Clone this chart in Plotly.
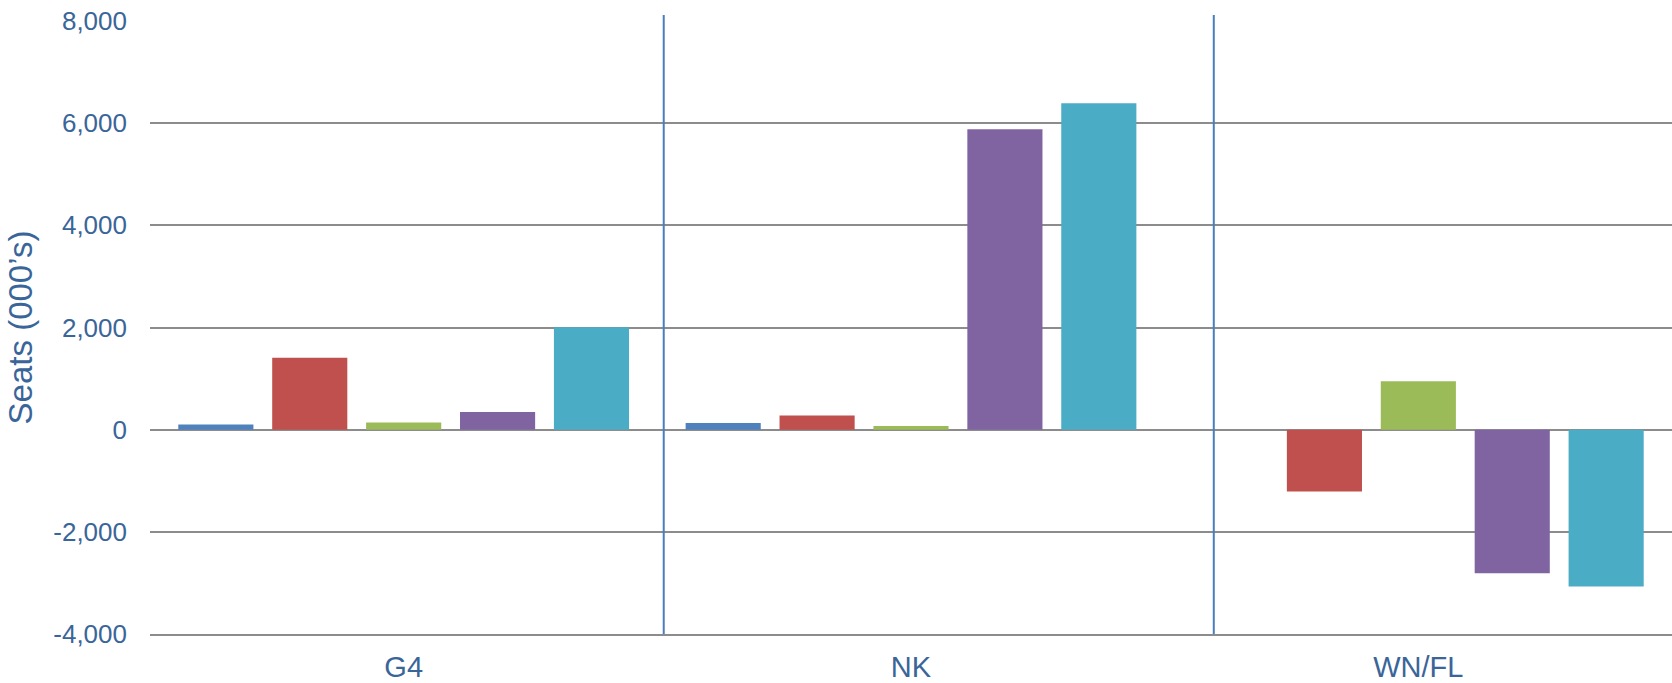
import plotly.graph_objects as go

categories = ["G4", "NK", "WN/FL"]
series_names = ["Series 1", "Series 2", "Series 3", "Series 4", "Series 5"]
series_1 = [100, 130, None]
series_2 = [1410, 275, -1210]
series_3 = [140, 70, 950]
series_4 = [345, 5880, -2810]
series_5 = [2005, 6390, -3070]
colors = ["#4F81BD", "#C0504D", "#9BBB59", "#8064A2", "#4BACC6"]
y_tick_values = [-4000, -2000, 0, 2000, 4000, 6000, 8000]
y_tick_labels = ["-4,000", "-2,000", "0", "2,000", "4,000", "6,000", "8,000"]
separator_x = [0.5126, 1.5968]

text_color = "#3A6599"
grid_color = "#8C8C8C"
font_family = "Liberation Sans, Arial, sans-serif"

fig = go.Figure()
for name, vals, col in zip(series_names,
                           [series_1, series_2, series_3, series_4, series_5],
                           colors):
    fig.add_trace(go.Bar(x=categories, y=vals, name=name,
                         marker=dict(color=col, line=dict(width=0))))

for sx in separator_x:
    fig.add_shape(type="line", xref="x", yref="paper",
                  x0=sx, x1=sx, y0=0, y1=1.0098,
                  line=dict(color="#4A7EBB", width=2), layer="above")

fig.update_layout(
    width=1672, height=683,
    margin=dict(l=150, r=0, t=21, b=49, pad=0, autoexpand=False),
    paper_bgcolor="white", plot_bgcolor="white",
    barmode="group", bargap=0.0745, bargroupgap=0.2,
    showlegend=False,
    font=dict(family=font_family, color=text_color),
)
fig.update_xaxes(
    range=[-0.5, 2.5], showgrid=False, zeroline=False,
    showline=True, linecolor=grid_color, linewidth=1.5,
    ticks="", tickfont=dict(size=29, color=text_color),
    ticklabelstandoff=6, automargin=False,
)
fig.update_yaxes(
    range=[-4000, 8000], tickvals=y_tick_values, ticktext=y_tick_labels,
    showgrid=True, gridcolor=grid_color, gridwidth=1.5,
    zeroline=True, zerolinecolor=grid_color, zerolinewidth=1.5,
    showline=False, ticks="",
    tickfont=dict(size=26, color=text_color),
    ticklabelstandoff=22, automargin=False,
    title=dict(text="Seats (000’s)", font=dict(size=33, color=text_color),
               standoff=10),
)

fig.write_html("out.html")
